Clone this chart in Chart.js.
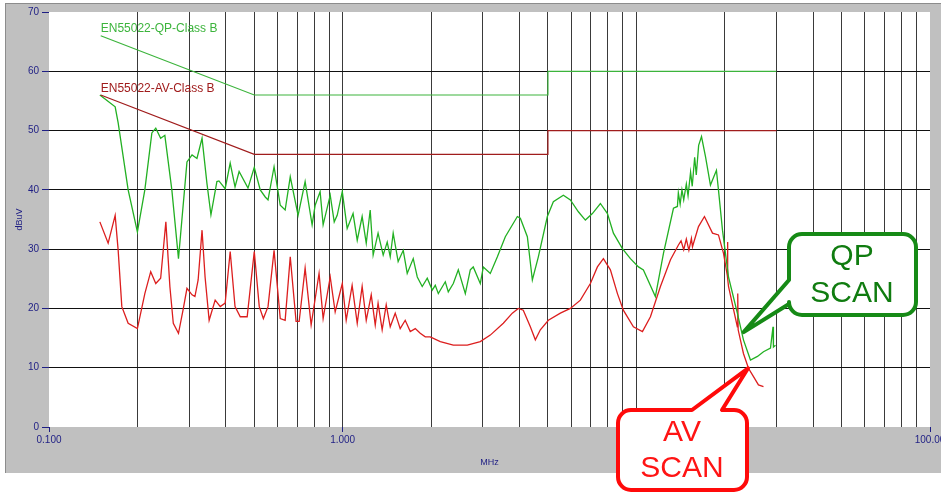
<!DOCTYPE html>
<html>
<head>
<meta charset="utf-8">
<script src="https://cdn.jsdelivr.net/npm/chart.js@4.4.1/dist/chart.umd.min.js"></script>
<style>
  html, body { margin: 0; padding: 0; background: #fff; }
</style>
</head>
<body>
<canvas id="scan" width="941" height="493"></canvas>
<script>
// QP scan: frequency (MHz) and level (dBuV)
const qpFreq = [
  0.149, 0.168, 0.172, 0.186, 0.200, 0.212, 0.224, 0.231, 0.240, 0.248,
  0.262, 0.276, 0.295, 0.307, 0.319, 0.332, 0.345, 0.356, 0.373, 0.379,
  0.398, 0.414, 0.430, 0.444, 0.476, 0.500, 0.524, 0.545, 0.557, 0.584,
  0.613, 0.637, 0.663, 0.705, 0.745, 0.787, 0.806, 0.838, 0.858, 0.907,
  0.936, 0.958, 0.997, 1.036, 1.085, 1.121, 1.165, 1.203, 1.241, 1.270,
  1.320, 1.374, 1.418, 1.452, 1.486, 1.545, 1.608, 1.659, 1.739, 1.795,
  1.866, 1.941, 2.019, 2.067, 2.117, 2.236, 2.289, 2.381, 2.476, 2.616,
  2.720, 2.784, 2.942, 3.013, 3.182, 3.364, 3.580, 3.934, 4.027, 4.255,
  4.425, 4.638, 4.977, 5.217, 5.643, 5.962, 6.348, 6.706, 7.085, 7.544,
  7.973, 8.355, 8.966, 9.546, 10.17, 10.57, 11.61, 12.37, 13.38, 13.80,
  13.90, 14.10, 14.30, 14.50, 14.80, 15.00, 15.30, 15.50, 15.80, 16.00,
  16.30, 16.67, 17.20, 17.88, 18.74, 19.04, 19.65, 20.60, 22.08,
  23.16, 24.47, 25.85, 27.10, 28.63, 29.20, 29.30, 29.78
];
const qpLevel = [
  56.0, 54.0, 51.3, 40.0, 32.9, 40.0, 49.6, 50.4, 48.7, 49.2,
  40.0, 28.4, 44.7, 45.9, 45.3, 48.7, 41.1, 35.8, 41.4, 41.5,
  40.2, 44.5, 40.5, 43.1, 40.3, 43.8, 40.0, 38.8, 38.3, 43.9,
  37.4, 36.6, 42.2, 35.7, 41.4, 34.1, 37.4, 39.7, 34.1, 39.1,
  34.6, 35.7, 39.7, 33.5, 36.0, 31.5, 35.5, 31.0, 36.6, 29.0,
  32.7, 29.0, 31.2, 28.7, 32.7, 27.9, 29.8, 25.9, 28.4, 25.3,
  23.7, 25.1, 23.1, 23.9, 22.5, 24.5, 22.8, 24.2, 26.5, 22.5,
  26.5, 27.0, 24.2, 27.0, 25.9, 28.7, 32.1, 35.5, 35.2, 32.1,
  24.8, 28.7, 35.5, 38.0, 39.1, 38.3, 36.3, 34.9, 36.0, 37.7,
  36.0, 32.7, 30.1, 28.4, 27.0, 26.5, 22.0, 29.3, 36.9, 37.2,
  39.5, 37.6, 40.0, 38.3, 41.0, 39.0, 43.0, 40.6, 45.5, 42.5,
  47.5, 49.0, 45.6, 40.8, 43.3, 40.0, 33.2, 25.3, 19.2,
  14.7, 11.3, 11.9, 12.7, 13.3, 16.9, 13.5, 13.8
];

// AV scan
const avFreq = [
  0.149, 0.159, 0.168, 0.172, 0.177, 0.186, 0.200, 0.212, 0.222, 0.231,
  0.240, 0.250, 0.258, 0.265, 0.276, 0.286, 0.295, 0.307, 0.314, 0.322,
  0.332, 0.340, 0.351, 0.368, 0.383, 0.398, 0.414, 0.430, 0.448, 0.473,
  0.500, 0.520, 0.537, 0.557, 0.584, 0.613, 0.637, 0.663, 0.694, 0.711,
  0.745, 0.781, 0.831, 0.858, 0.907, 0.943, 0.997, 1.028, 1.077, 1.121,
  1.165, 1.203, 1.251, 1.291, 1.320, 1.363, 1.407, 1.452, 1.510, 1.570,
  1.633, 1.699, 1.767, 1.837, 1.911, 1.987, 2.150, 2.381, 2.657, 2.942,
  3.182, 3.524, 3.782, 3.964, 4.121, 4.356, 4.530, 4.711, 5.017, 5.512,
  5.962, 6.448, 6.975, 7.369, 7.724, 8.160, 8.623, 9.031, 9.773, 10.49,
  11.17, 12.08, 13.07, 13.91, 14.20, 14.50, 14.80, 15.10, 15.40, 15.53,
  16.28, 17.06, 18.17, 19.04, 19.81,
  20.42, 20.45, 20.48, 20.60, 22.08, 22.15, 22.22, 23.16, 24.09, 25.06,
  26.05, 27.10
];
const avLevel = [
  34.6, 31.0, 35.7, 29.8, 20.3, 17.5, 16.6, 22.5, 26.2, 24.2,
  25.1, 34.6, 23.7, 17.5, 15.8, 19.7, 23.4, 22.3, 22.0, 24.8,
  33.2, 25.3, 18.0, 21.4, 20.3, 20.9, 29.6, 20.3, 18.6, 18.6,
  29.6, 20.3, 18.3, 20.3, 29.8, 18.3, 18.0, 28.7, 17.8, 17.8,
  26.8, 17.2, 25.9, 18.3, 25.3, 19.4, 24.2, 18.0, 23.9, 17.5,
  23.7, 18.0, 22.3, 17.2, 20.9, 16.4, 20.6, 16.9, 19.2, 16.6,
  18.0, 16.1, 16.6, 15.8, 15.2, 15.2, 14.4, 13.8, 13.8, 14.4,
  15.5, 17.5, 19.2, 20.0, 19.7, 16.9, 14.7, 16.4, 18.0, 19.2,
  20.0, 21.4, 24.2, 27.0, 28.4, 26.5, 22.5, 19.7, 16.9, 16.1,
  18.6, 23.7, 28.2, 30.7, 31.4, 29.9, 31.7, 29.8, 31.8, 30.4,
  33.8, 35.5, 32.7, 32.4, 29.3,
  25.5, 31.2, 25.0, 23.7, 16.9, 22.5, 16.4, 12.4, 9.9, 8.5,
  7.1, 6.8
];

// EN55022 class B limits
const limitFreq = [0.15, 0.5, 5, 5, 30];
const qpLimit = [66, 56, 56, 60, 60];
const avLimit = [56, 46, 46, 50, 50];

const yTicks = [0, 10, 20, 30, 40, 50, 60, 70];
const xDecades = [0.1, 1, 10, 100];
const xTickLabels = ['0.100', '1.000', '10.000', '100.00'];

const navy = '#1e1e84';
const qpColor = '#22b022';
const avColor = '#dc1e1e';

function toPoints(xs, ys) {
  return xs.map((x, i) => ({ x: x, y: ys[i] }));
}

function decadeIndex(v) {
  return xDecades.findIndex(d => Math.abs(v - d) < 1e-9);
}

// grid at 1..9 x each decade
let xGrid = [];
xDecades.slice(0, 3).forEach(d => {
  for (let k = 1; k < 10; k++) xGrid.push(d * k);
});
xGrid.push(100);

// grey frame + white plot area
const framePlugin = {
  id: 'frame',
  beforeDraw(chart) {
    const ctx = chart.ctx;
    const a = chart.chartArea;
    ctx.save();
    ctx.fillStyle = '#fff';
    ctx.fillRect(0, 0, chart.width, chart.height);
    ctx.fillStyle = '#c0c0c0';
    ctx.fillRect(5, 3, chart.width - 5, 470);
    ctx.fillStyle = '#8c8c8c';
    ctx.fillRect(5, 3, chart.width - 5, 1);
    ctx.fillRect(5, 3, 1, 470);
    ctx.fillStyle = '#fff';
    ctx.fillRect(a.left, a.top, a.right - a.left, a.bottom - a.top);
    ctx.restore();
  }
};

function calloutPath(ctx, l, t, r, b, rad, tail) {
  ctx.beginPath();
  ctx.moveTo(l + rad, t);
  if (tail.side === 'top') {
    ctx.lineTo(tail.from, t);
    ctx.lineTo(tail.tipX, tail.tipY);
    ctx.lineTo(tail.to, t);
  }
  ctx.lineTo(r - rad, t);
  ctx.arcTo(r, t, r, t + rad, rad);
  ctx.lineTo(r, b - rad);
  ctx.arcTo(r, b, r - rad, b, rad);
  ctx.lineTo(l + rad, b);
  ctx.arcTo(l, b, l, b - rad, rad);
  if (tail.side === 'left') {
    ctx.lineTo(l, tail.from);
    ctx.lineTo(tail.tipX, tail.tipY);
    ctx.lineTo(l, tail.to);
  }
  ctx.lineTo(l, t + rad);
  ctx.arcTo(l, t, l + rad, t, rad);
  ctx.closePath();
}

// limit names and the two scan callouts
const notesPlugin = {
  id: 'notes',
  afterDatasetsDraw(chart) {
    const ctx = chart.ctx;
    const x = chart.scales.x;
    const y = chart.scales.y;
    ctx.save();
    ctx.font = '12px "Liberation Sans", Arial, sans-serif';
    ctx.textAlign = 'left';
    ctx.textBaseline = 'middle';
    ctx.fillStyle = '#3cb43c';
    ctx.fillText('EN55022-QP-Class B', x.getPixelForValue(0.15), y.getPixelForValue(67.2));
    ctx.fillStyle = '#a01c1c';
    ctx.fillText('EN55022-AV-Class B', x.getPixelForValue(0.15), y.getPixelForValue(57.1));
    ctx.restore();
  },
  afterDraw(chart) {
    const ctx = chart.ctx;
    const x = chart.scales.x;
    const y = chart.scales.y;
    ctx.save();
    ctx.lineWidth = 4;
    ctx.lineJoin = 'round';
    ctx.font = '30px "Liberation Sans", Arial, sans-serif';
    ctx.textAlign = 'center';
    ctx.textBaseline = 'middle';

    // QP SCAN
    calloutPath(ctx, 789, 234, 916, 315, 13, {
      side: 'left', from: 304, to: 280,
      tipX: x.getPixelForValue(23.2), tipY: y.getPixelForValue(16.0)
    });
    ctx.fillStyle = '#fff';
    ctx.fill();
    ctx.strokeStyle = '#168a16';
    ctx.stroke();
    ctx.fillStyle = '#107c10';
    ctx.fillText('QP', 852, 257);
    ctx.fillText('SCAN', 852, 294);

    // AV SCAN
    calloutPath(ctx, 618, 410, 747, 490, 13, {
      side: 'top', from: 692, to: 722,
      tipX: x.getPixelForValue(24.0), tipY: y.getPixelForValue(9.9)
    });
    ctx.fillStyle = '#fff';
    ctx.fill();
    ctx.strokeStyle = '#ff0a0a';
    ctx.stroke();
    ctx.fillStyle = '#ff1414';
    ctx.fillText('AV', 682, 433);
    ctx.fillText('SCAN', 682, 469);
    ctx.restore();
  }
};

new Chart(document.getElementById('scan'), {
  type: 'line',
  data: {
    datasets: [
      {
        label: 'EN55022-QP-Class B',
        data: toPoints(limitFreq, qpLimit),
        borderColor: '#3cb43c',
        borderWidth: 1.2
      },
      {
        label: 'EN55022-AV-Class B',
        data: toPoints(limitFreq, avLimit),
        borderColor: '#a01c1c',
        borderWidth: 1.2
      },
      {
        label: 'QP scan',
        data: toPoints(qpFreq, qpLevel),
        borderColor: qpColor,
        borderWidth: 1.3
      },
      {
        label: 'AV scan',
        data: toPoints(avFreq, avLevel),
        borderColor: avColor,
        borderWidth: 1.3
      }
    ]
  },
  options: {
    responsive: false,
    animation: false,
    devicePixelRatio: 1,
    elements: {
      point: { radius: 0 },
      line: { tension: 0, fill: false }
    },
    layout: { padding: { left: 0, top: 12, right: 11, bottom: 0 } },
    plugins: {
      legend: { display: false },
      tooltip: { enabled: false }
    },
    scales: {
      x: {
        type: 'logarithmic',
        min: 0.1,
        max: 100,
        border: { display: false },
        afterBuildTicks(scale) {
          scale.ticks = xGrid.map(v => ({ value: v }));
        },
        afterFit(scale) {
          scale.height = 66;
          scale.paddingLeft = 0;
          scale.paddingRight = 0;
        },
        grid: {
          color(c) {
            const v = c.tick ? c.tick.value : 0;
            return (Math.abs(v - 0.1) < 1e-9 || Math.abs(v - 100) < 1e-9) ? 'rgba(0,0,0,0)' : '#3a3a3a';
          },
          tickColor(c) {
            return (c.tick && decadeIndex(c.tick.value) >= 0) ? navy : 'rgba(0,0,0,0)';
          },
          tickLength: 5,
          lineWidth: 1
        },
        ticks: {
          autoSkip: false,
          maxRotation: 0,
          padding: 2,
          color: navy,
          font: { family: '"Liberation Sans", Arial, sans-serif', size: 10 },
          callback(value) {
            const i = decadeIndex(value);
            return i >= 0 ? xTickLabels[i] : '';
          }
        },
        title: {
          display: true,
          text: 'MHz',
          color: navy,
          font: { family: '"Liberation Sans", Arial, sans-serif', size: 9 },
          padding: { top: 4, bottom: 25 }
        }
      },
      y: {
        min: 0,
        max: 70,
        border: { display: false },
        afterBuildTicks(scale) {
          scale.ticks = yTicks.map(v => ({ value: v }));
        },
        afterFit(scale) {
          scale.width = 49;
          scale.paddingTop = 0;
          scale.paddingBottom = 0;
        },
        grid: {
          color(c) {
            const v = c.tick ? c.tick.value : 0;
            return (v === 0 || v === 70) ? 'rgba(0,0,0,0)' : '#111';
          },
          tickColor: navy,
          tickLength: 7,
          lineWidth: 1
        },
        ticks: {
          padding: 3,
          color: navy,
          font: { family: '"Liberation Sans", Arial, sans-serif', size: 10 },
          callback(value) { return String(value); }
        },
        title: {
          display: true,
          text: 'dBuV',
          color: navy,
          font: { family: '"Liberation Sans", Arial, sans-serif', size: 9 },
          padding: { top: 14, bottom: 0 }
        }
      }
    }
  },
  plugins: [framePlugin, notesPlugin]
});
</script>
</body>
</html>
